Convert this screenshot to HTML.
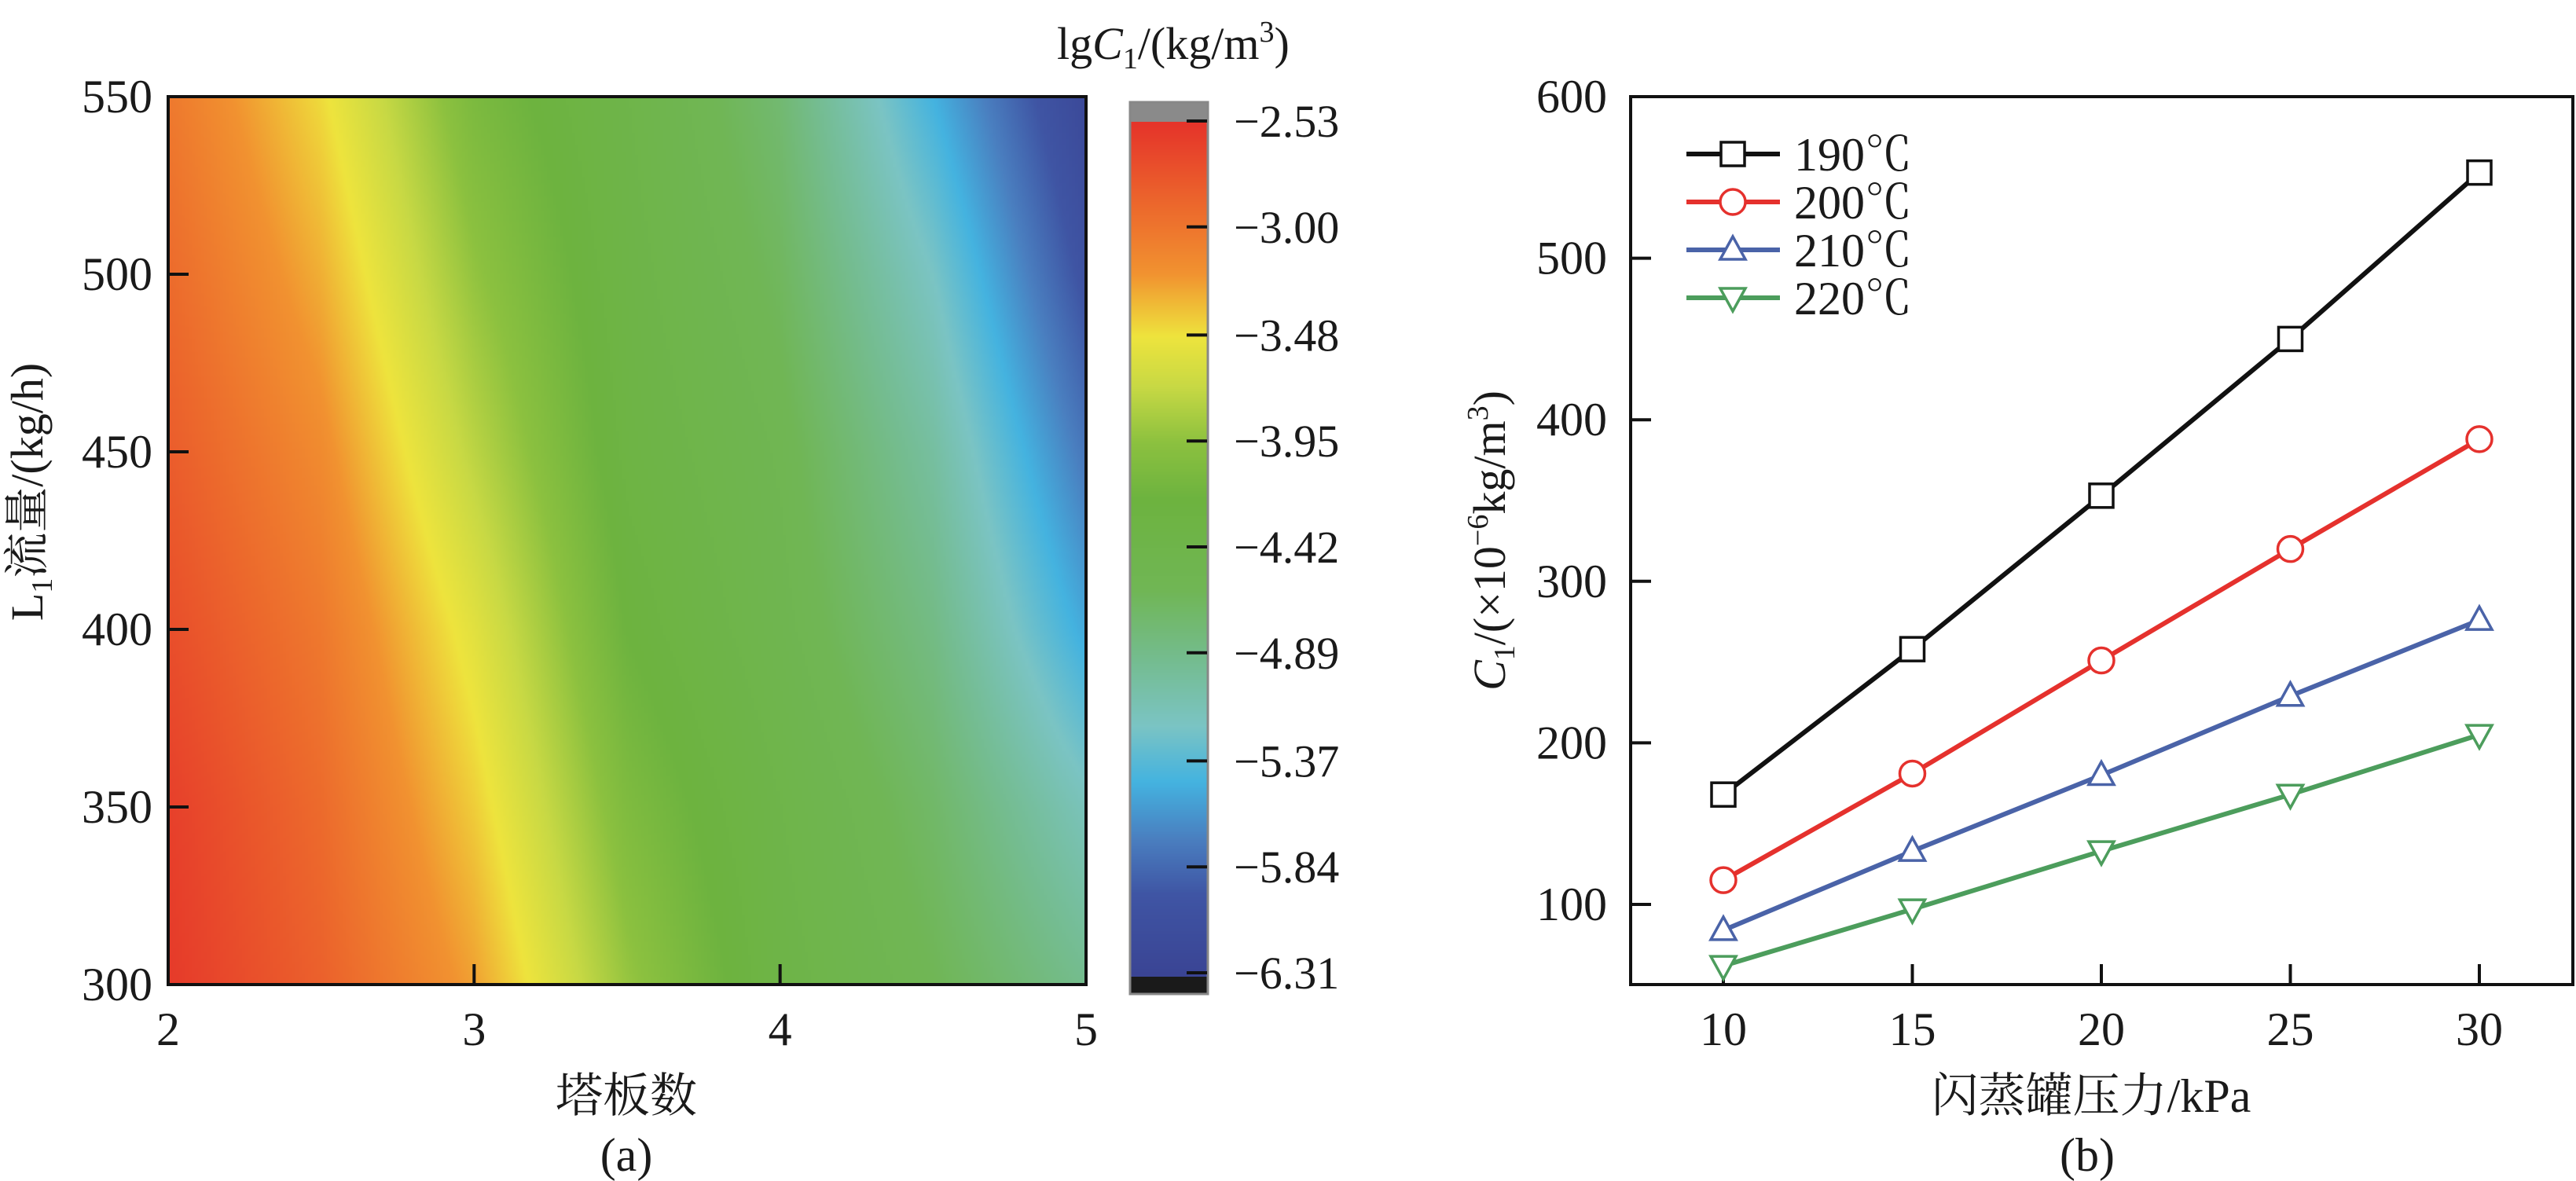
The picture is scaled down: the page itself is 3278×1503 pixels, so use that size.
<!DOCTYPE html>
<html><head><meta charset="utf-8">
<style>
html,body{margin:0;padding:0;background:#fff;}
#wrap{position:relative;width:3278px;height:1503px;overflow:hidden;}
#heat{position:absolute;left:214px;top:123px;width:1168px;height:1130px;}
#cbar{position:absolute;left:1438px;top:155px;width:99px;height:1088px;}
svg{position:absolute;left:0;top:0;}
text{font-family:"Liberation Serif","Noto Serif CJK SC",serif;fill:#1a1a1a;}
</style></head>
<body>
<div id="wrap">
<canvas id="heat" width="292" height="283"></canvas>
<canvas id="cbar" width="20" height="272"></canvas>
<svg id="svg" width="3278" height="1503"></svg>
</div>
<script>
// ---- panel (a) data ----
const heatX = [2, 2.5, 3, 3.5, 4, 4.5, 5];
const heatY = [300, 350, 400, 450, 500, 550];
const heatRow300 = [-2.58, -2.85, -3.25, -3.9, -4.35, -4.6, -4.9];
const heatRow350 = [-2.62, -2.92, -3.4, -4.05, -4.4, -4.7, -5.15];
const heatRow400 = [-2.72, -3.02, -3.55, -4.2, -4.5, -4.85, -5.5];
const heatRow450 = [-2.82, -3.15, -3.75, -4.3, -4.55, -5.0, -5.75];
const heatRow500 = [-2.92, -3.3, -3.92, -4.35, -4.65, -5.2, -6.0];
const heatRow550 = [-3.02, -3.45, -4.08, -4.4, -4.75, -5.45, -6.2];
const aXTicks = [2, 3, 4, 5];
const aYTicks = [300, 350, 400, 450, 500, 550];
const cbTicks = [-2.53, -3.00, -3.48, -3.95, -4.42, -4.89, -5.37, -5.84, -6.31];
const cbStopVals = [-2.53, -2.9, -3.2, -3.48, -3.7, -3.95, -4.2, -4.6, -4.9, -5.2, -5.45, -5.7, -5.95, -6.31];
const cbStopCols = ['#e5332a','#ec682c','#f19230','#eee43d','#c8d944','#8cc13f','#6db33f','#70b655','#74bc8e','#7bc4c4','#44b3e0','#4a7fc0','#3f55a4','#3a4494'];
// ---- panel (b) data ----
const bX = [10, 15, 20, 25, 30];
const s190 = [168, 258, 353, 450, 553];
const s200 = [115, 181, 251, 320, 388];
const s210 = [84, 133, 180, 229, 276];
const s220 = [62, 97, 133, 168, 205];
const bXTicks = [10, 15, 20, 25, 30];
const bYTicks = [100, 200, 300, 400, 500, 600];
const seriesNames = ['190℃', '200℃', '210℃', '220℃'];

const NS = 'http://www.w3.org/2000/svg';
const svg = document.getElementById('svg');
function el(tag, attrs, parent) {
  const e = document.createElementNS(NS, tag);
  for (const k in attrs) e.setAttribute(k, attrs[k]);
  (parent || svg).appendChild(e);
  return e;
}
function hex(c){return [parseInt(c.substr(1,2),16),parseInt(c.substr(3,2),16),parseInt(c.substr(5,2),16)];}
function cmap(v) {
  if (v >= cbStopVals[0]) return hex(cbStopCols[0]);
  for (let i = 0; i < cbStopVals.length - 1; i++) {
    const a = cbStopVals[i], b = cbStopVals[i+1];
    if (v <= a && v >= b) {
      const t = (a - v) / (a - b), c1 = hex(cbStopCols[i]), c2 = hex(cbStopCols[i+1]);
      return [0,1,2].map(k => c1[k] + (c2[k]-c1[k])*t);
    }
  }
  return hex(cbStopCols[cbStopCols.length-1]);
}
const aL = 214, aR = 1382, aT = 123, aB = 1253;
const ax = x => aL + (x - 2) / 3 * (aR - aL);
const ay = y => aB - (y - 300) / 250 * (aB - aT);
const rows = [heatRow300, heatRow350, heatRow400, heatRow450, heatRow500, heatRow550];
function interp(xv, yv) {
  let i = Math.min(heatX.length - 2, Math.max(0, Math.floor((xv - heatX[0]) / (heatX[1]-heatX[0]))));
  let j = Math.min(heatY.length - 2, Math.max(0, Math.floor((yv - heatY[0]) / (heatY[1]-heatY[0]))));
  const tx = (xv - heatX[i]) / (heatX[i+1]-heatX[i]), ty = (yv - heatY[j]) / (heatY[j+1]-heatY[j]);
  const v00 = rows[j][i], v10 = rows[j][i+1], v01 = rows[j+1][i], v11 = rows[j+1][i+1];
  return v00*(1-tx)*(1-ty) + v10*tx*(1-ty) + v01*(1-tx)*ty + v11*tx*ty;
}
(function drawHeat(){
  const cv = document.getElementById('heat'), ctx = cv.getContext('2d');
  const W = cv.width, H = cv.height, img = ctx.createImageData(W, H);
  for (let py = 0; py < H; py++) for (let px = 0; px < W; px++) {
    const xv = 2 + 3 * (px + 0.5) / W, yv = 550 - 250 * (py + 0.5) / H;
    const c = cmap(interp(xv, yv)), o = (py*W + px)*4;
    img.data[o]=c[0]; img.data[o+1]=c[1]; img.data[o+2]=c[2]; img.data[o+3]=255;
  }
  ctx.putImageData(img, 0, 0);
  const cb = document.getElementById('cbar'), c2 = cb.getContext('2d');
  for (let py = 0; py < cb.height; py++) {
    const v = cbTicks[0] + (cbTicks[cbTicks.length-1] - cbTicks[0]) * (py + 0.5) / cb.height;
    const c = cmap(v);
    c2.fillStyle = 'rgb(' + c.map(Math.round).join(',') + ')';
    c2.fillRect(0, py, cb.width, 1);
  }
})();
el('rect', {x: aL, y: aT, width: aR - aL, height: aB - aT, fill: 'none', stroke: '#111', 'stroke-width': 4,  });
aXTicks.forEach(t => {
  const l = el('line', {x1: ax(t), x2: ax(t), y1: aB, y2: aB - 26, stroke: '#111', 'stroke-width': 4});
   
  const tx = el('text', {x: ax(t), y: 1330, 'font-size': 60, 'text-anchor': 'middle'}); tx.textContent = t;
   
});
aYTicks.forEach(t => {
  const l = el('line', {x1: aL, x2: aL + 26, y1: ay(t), y2: ay(t), stroke: '#111', 'stroke-width': 4});
   
  const tx = el('text', {x: aL - 20, y: ay(t) + 20, 'font-size': 60, 'text-anchor': 'end'}); tx.textContent = t;
   
});
let t1 = el('text', {x: 797, y: 1415, 'font-size': 60, 'text-anchor': 'middle',  }); t1.textContent = '塔板数';
let t2 = el('text', {x: 797, y: 1490, 'font-size': 60, 'text-anchor': 'middle',  }); t2.textContent = '(a)';
let t3 = el('text', {x: 0, y: 0, 'font-size': 58, 'text-anchor': 'middle', transform: 'translate(54,626) rotate(-90)',  });
t3.innerHTML = 'L<tspan font-size="38" dy="12">1</tspan><tspan dy="-12">流量/(kg/h)</tspan>';
el('rect', {x: 1438, y: 130, width: 99, height: 25, fill: '#8a8a8a',  });
el('rect', {x: 1438, y: 1243, width: 99, height: 22, fill: '#1a1a1a',  });
el('rect', {x: 1438, y: 130, width: 99, height: 1135, fill: 'none', stroke: '#888', 'stroke-width': 3,  });
const cy = v => 154 + (v - cbTicks[0]) / (cbTicks[cbTicks.length-1] - cbTicks[0]) * (1238 - 154);
cbTicks.forEach(t => {
  const l = el('line', {x1: 1510, x2: 1536, y1: cy(t), y2: cy(t), stroke: '#111', 'stroke-width': 4});
   
  const tx = el('text', {x: 1570, y: cy(t) + 20, 'font-size': 58}); tx.textContent = '−' + Math.abs(t).toFixed(2);
   
});
let t4 = el('text', {x: 1345, y: 75, 'font-size': 58,  });
t4.innerHTML = 'lg<tspan font-style="italic">C</tspan><tspan font-size="38" dy="12">1</tspan><tspan dy="-12">/(kg/m</tspan><tspan font-size="38" dy="-22">3</tspan><tspan dy="22">)</tspan>';

const bL = 2075, bR = 3274, bT = 123, bB = 1253;
const bx = x => 2193 + (x - 10) * (3155 - 2193) / 20;
const by = y => 123 + (600 - y) * 2.056;
el('rect', {x: bL, y: bT, width: bR - bL, height: bB - bT, fill: 'none', stroke: '#111', 'stroke-width': 4,  });
bXTicks.forEach(t => {
  const l = el('line', {x1: bx(t), x2: bx(t), y1: bB, y2: bB - 26, stroke: '#111', 'stroke-width': 4});
   
  const tx = el('text', {x: bx(t), y: 1330, 'font-size': 60, 'text-anchor': 'middle'}); tx.textContent = t;
   
});
bYTicks.forEach(t => {
  const l = el('line', {x1: bL, x2: bL + 26, y1: by(t), y2: by(t), stroke: '#111', 'stroke-width': 4});
   
  const tx = el('text', {x: bL - 30, y: by(t) + 20, 'font-size': 60, 'text-anchor': 'end'}); tx.textContent = t;
   
});
let t5 = el('text', {x: 2661, y: 1415, 'font-size': 60, 'text-anchor': 'middle',  }); t5.textContent = '闪蒸罐压力/kPa';
let t6 = el('text', {x: 2656, y: 1490, 'font-size': 60, 'text-anchor': 'middle',  }); t6.textContent = '(b)';
let t7 = el('text', {x: 0, y: 0, 'font-size': 58, 'text-anchor': 'middle', transform: 'translate(1915,688) rotate(-90)',  });
t7.innerHTML = '<tspan font-style="italic">C</tspan><tspan font-size="38" dy="12">1</tspan><tspan dy="-12">/(×10</tspan><tspan font-size="38" dy="-22">−6</tspan><tspan dy="22">kg/m</tspan><tspan font-size="38" dy="-22">3</tspan><tspan dy="22">)</tspan>';

const series = [s190, s200, s210, s220];
const colors = ['#111111', '#e5312d', '#4a63a8', '#4c9d5c'];
const shapes = ['square', 'circle', 'tri', 'itri'];
function marker(shape, x, y, color, g) {
  let m;
  if (shape === 'square') m = el('rect', {x: x - 15, y: y - 15, width: 30, height: 30}, g);
  else if (shape === 'circle') m = el('circle', {cx: x, cy: y, r: 16}, g);
  else if (shape === 'tri') m = el('polygon', {points: `${x},${y-17} ${x-16},${y+12} ${x+16},${y+12}`}, g);
  else m = el('polygon', {points: `${x},${y+17} ${x-16},${y-12} ${x+16},${y-12}`}, g);
  m.setAttribute('fill', '#fff'); m.setAttribute('stroke', color); m.setAttribute('stroke-width', 3.5);
   
}
series.forEach((s, i) => {
  const g = el('g', {});
  
  
  const pl = el('polyline', {points: s.map((v, k) => bx(bX[k]) + ',' + by(v)).join(' '), fill: 'none', stroke: colors[i], 'stroke-width': 6}, g);
   
  s.forEach((v, k) => marker(shapes[i], bx(bX[k]), by(v), colors[i], g));
  const ly = 196 + i * 61;
  const lg = el('g', {});
   
  el('line', {x1: 2146, x2: 2265, y1: ly, y2: ly, stroke: colors[i], 'stroke-width': 6}, lg);
  marker(shapes[i], 2205, ly, colors[i], lg);
  const lt = el('text', {x: 2283, y: ly + 21, 'font-size': 60}, lg); lt.textContent = seriesNames[i];
});
</script>
</body></html>
